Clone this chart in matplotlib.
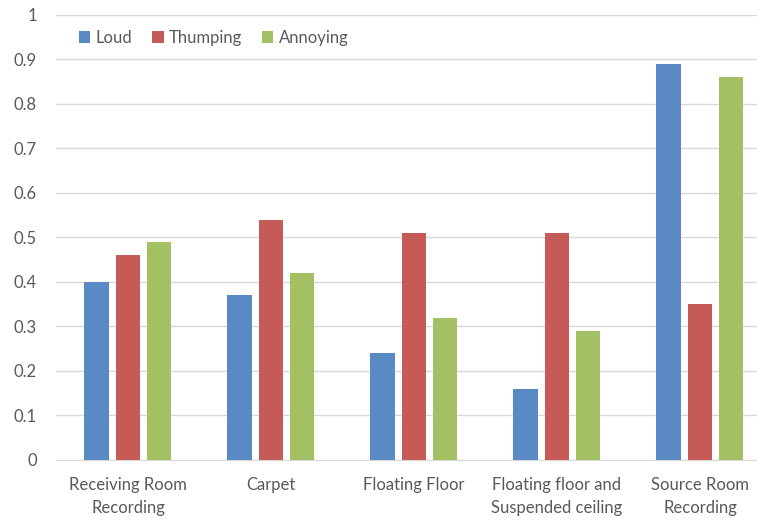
import numpy as np
import matplotlib.pyplot as plt

plt.rcParams["font.family"] = ["Lato", "DejaVu Sans"]

categories = ["Receiving Room\nRecording", "Carpet", "Floating Floor",
              "Floating floor and\nSuspended ceiling", "Source Room\nRecording"]
loud = [0.40, 0.37, 0.24, 0.16, 0.89]
thumping = [0.46, 0.54, 0.51, 0.51, 0.35]
annoying = [0.49, 0.42, 0.32, 0.29, 0.86]
series = [("Loud", loud, "#5A8AC4"),
          ("Thumping", thumping, "#C65A56"),
          ("Annoying", annoying, "#A3C062")]
yticks = [0, 0.1, 0.2, 0.3, 0.4, 0.5, 0.6, 0.7, 0.8, 0.9, 1]
ylabels = ["0", "0.1", "0.2", "0.3", "0.4", "0.5", "0.6", "0.7", "0.8", "0.9", "1"]

txt = "#595959"
fig = plt.figure(figsize=(7.57, 5.2), dpi=100)
# plot area runs past the right edge, as in the cropped original
ax = fig.add_axes([0.0746, 0.1154, 0.9445, 0.8558])

x = np.arange(len(categories))
w = 0.168
step = 0.22
for i, (name, vals, col) in enumerate(series):
    ax.bar(x + (i - 1) * step, vals, w, color=col, label=name, zorder=3)

ax.set_xlim(-0.5, len(categories) - 0.5)
ax.set_ylim(0, 1)
ax.set_yticks(yticks)
ax.set_yticklabels(ylabels)
ax.set_xticks(x)
ax.set_xticklabels(categories, linespacing=1.6)
ax.grid(axis="y", color="#D9D9D9", linewidth=1, zorder=0)
for s in ["top", "right", "left"]:
    ax.spines[s].set_visible(False)
ax.spines["bottom"].set_color("#D9D9D9")
ax.tick_params(axis="both", length=0, colors=txt, labelsize=12)
ax.tick_params(axis="y", pad=14)
ax.tick_params(axis="x", pad=12)

ax.legend(loc="upper left", bbox_to_anchor=(0.01, 1.0), ncol=3, frameon=False,
          handlelength=0.7, handleheight=0.7, handletextpad=0.3, columnspacing=1.2,
          fontsize=12, labelcolor=txt)

fig.savefig("out.png", dpi=100)
